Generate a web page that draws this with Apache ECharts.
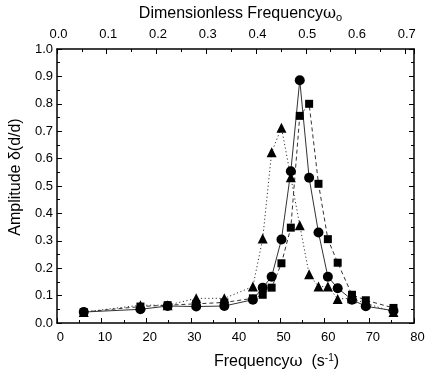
<!DOCTYPE html>
<html>
<head>
<meta charset="utf-8">
<script src="https://cdn.jsdelivr.net/npm/echarts@6/dist/echarts.min.js"></script>
<style>html,body{margin:0;padding:0;background:#fff}#c{width:435px;height:375px}</style>
</head>
<body>
<div id="c"></div>
<script>
// Frequency ω (s^-1), shared by the three series
const freq = [6.0, 18.7, 24.8, 31.2, 37.5, 43.9, 46.1, 48.1, 50.3, 52.4, 54.4, 56.5, 58.6, 60.7, 62.9, 66.1, 69.2, 75.4];
const ampCircle = [0.040, 0.050, 0.062, 0.060, 0.062, 0.085, 0.129, 0.169, 0.305, 0.554, 0.886, 0.530, 0.330, 0.169, 0.127, 0.085, 0.061, 0.045];
const ampSquare = [0.040, 0.060, 0.065, 0.070, 0.075, 0.090, 0.103, 0.129, 0.218, 0.348, 0.756, 0.800, 0.508, 0.306, 0.220, 0.103, 0.083, 0.055];
const ampTriangle = [0.040, 0.065, 0.065, 0.090, 0.090, 0.133, 0.308, 0.623, 0.713, 0.532, 0.357, 0.178, 0.133, 0.133, 0.088, 0.090, 0.072, 0.040];
const omega0 = 111.5; // ω / ω0 conversion for top axis
const xMax = 80;

const pair = (ys) => freq.map((x, i) => [x, ys[i]]);
const font = 'Liberation Sans, Arial, sans-serif';

const chart = echarts.init(document.getElementById('c'), null, {renderer: 'canvas'});
const tickStyle = {show: true, inside: true, length: 5, lineStyle: {color: '#000', width: 1}};
const minorStyle = {show: true, splitNumber: 2, length: 3, lineStyle: {color: '#000', width: 1}};
const axisLine = {show: true, onZero: false, lineStyle: {color: '#000', width: 1.5}};

chart.setOption({
  animation: false,
  backgroundColor: '#fff',
  grid: {left: 52, right: 21, top: 49, bottom: 50, containLabel: false},
  xAxis: [
    {
      type: 'value', min: 0, max: xMax, interval: 10, position: 'bottom',
      axisLine: axisLine, axisTick: tickStyle, minorTick: minorStyle,
      splitLine: {show: false},
      axisLabel: {color: '#000', fontFamily: font, fontSize: 13, margin: 8, padding: [0, 0, 0, 7]},
      name: 'Frequency{w|ω}  (s{sup|-1})',
      nameLocation: 'middle', nameGap: 30,
      nameTextStyle: {
        color: '#000', fontFamily: font, fontSize: 16, padding: [0, 0, 0, 82],
        rich: {
          w: {fontFamily: 'DejaVu Serif, serif', fontSize: 16, color: '#000'},
          sup: {fontSize: 10, verticalAlign: 'top', padding: [0, 0, 8, 0], color: '#000'}
        }
      }
    },
    {
      type: 'value', min: 0, max: xMax / omega0, interval: 0.1, position: 'top',
      axisLine: axisLine, axisTick: tickStyle, minorTick: minorStyle,
      splitLine: {show: false},
      axisLabel: {
        color: '#000', fontFamily: font, fontSize: 13, margin: 8, padding: [0, 0, 0, 3],
        formatter: (v) => Math.abs(v * 10 - Math.round(v * 10)) < 1e-6 ? v.toFixed(1) : ''
      },
      name: 'Dimensionless Frequency{w|ω}{sub|o}',
      nameLocation: 'middle', nameGap: 25,
      nameTextStyle: {
        color: '#000', fontFamily: font, fontSize: 16, padding: [0, 0, 0, 10],
        rich: {
          w: {fontFamily: 'DejaVu Serif, serif', fontSize: 16, color: '#000'},
          sub: {fontSize: 11, color: '#000', padding: [8, 0, 0, 0]}
        }
      }
    }
  ],
  yAxis: [
    {
      type: 'value', min: 0, max: 1, interval: 0.1, position: 'left',
      axisLine: axisLine, axisTick: tickStyle, minorTick: minorStyle,
      splitLine: {show: false},
      axisLabel: {color: '#000', fontFamily: font, fontSize: 13, margin: 4, formatter: (v) => v.toFixed(1)},
      name: 'Amplitude δ(d/d)',
      nameLocation: 'middle', nameGap: 22, nameRotate: 90,
      nameTextStyle: {color: '#000', fontFamily: font, fontSize: 16, padding: [0, 0, 0, 18]}
    },
    {
      type: 'value', min: 0, max: 1, interval: 0.1, position: 'right',
      axisLine: axisLine, axisTick: tickStyle, minorTick: minorStyle,
      splitLine: {show: false}, axisLabel: {show: false}
    }
  ],
  series: [
    {
      type: 'line', name: 'circles', data: pair(ampCircle), xAxisIndex: 0, yAxisIndex: 0,
      symbol: 'circle', symbolSize: 10, z: 3,
      itemStyle: {color: '#000'},
      lineStyle: {color: '#333', width: 1, type: 'solid'}
    },
    {
      type: 'line', name: 'squares', data: pair(ampSquare), xAxisIndex: 0, yAxisIndex: 0,
      symbol: 'rect', symbolSize: 8, z: 3,
      itemStyle: {color: '#000'},
      lineStyle: {color: '#333', width: 1, type: [4, 3]}
    },
    {
      type: 'line', name: 'triangles', data: pair(ampTriangle), xAxisIndex: 0, yAxisIndex: 0,
      symbol: 'triangle', symbolSize: 10, z: 3,
      itemStyle: {color: '#000'},
      lineStyle: {color: '#333', width: 1, type: [1.2, 2.5]}
    }
  ]
});
</script>
</body>
</html>
